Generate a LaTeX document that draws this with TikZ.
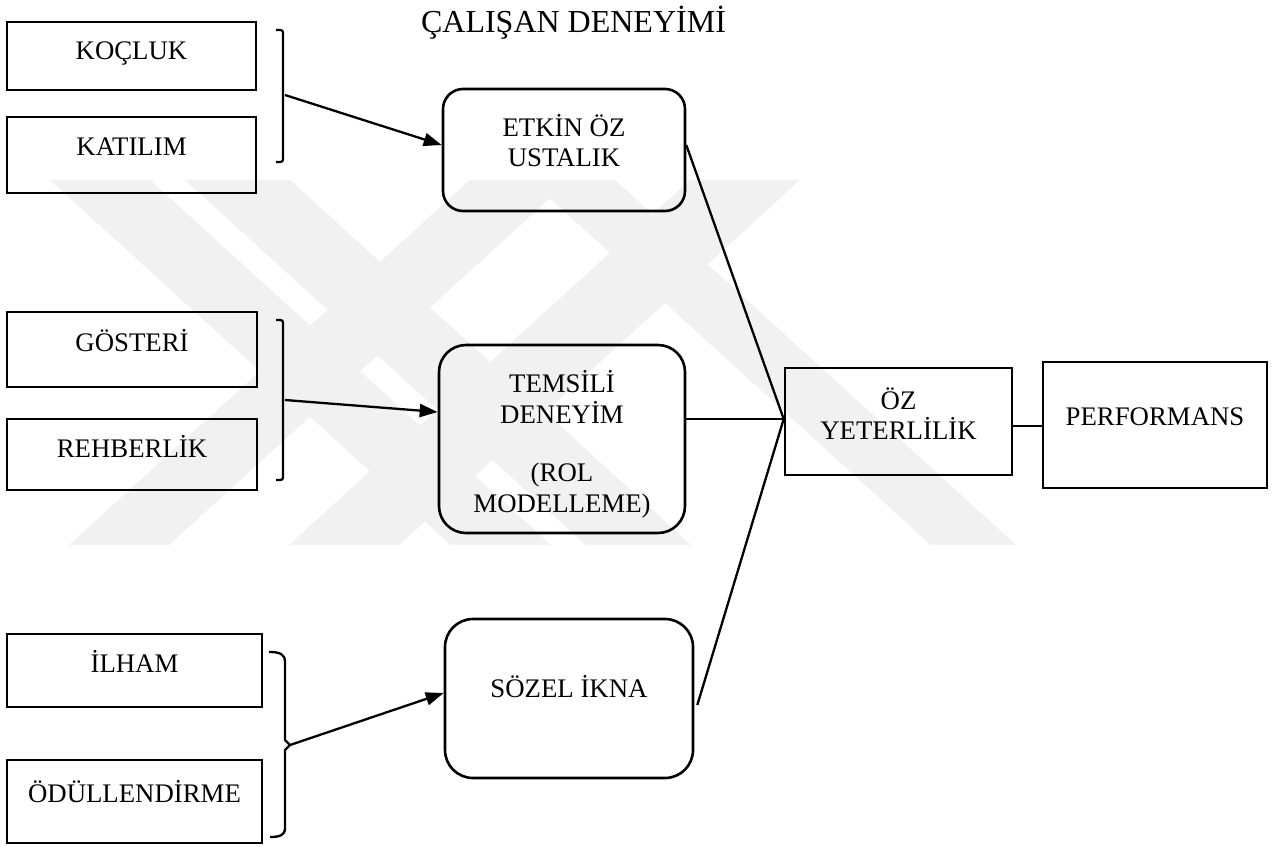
\documentclass[tikz,border=0pt]{standalone}
\usepackage{fontspec}
\setmainfont{Liberation Serif}
\usetikzlibrary{arrows.meta,calc}
\definecolor{wmark}{gray}{0.945}
\begin{document}
\begin{tikzpicture}[x=1pt,y=-1pt,
  box/.style={draw,line width=2.6pt,inner sep=0pt,rectangle},
  lbl/.style={anchor=base,inner sep=0pt,font=\fontsize{26.8}{30}\selectfont},
  conn/.style={line width=2.3pt},
  arr/.style={conn,-{Triangle[length=18pt,width=13pt]}},
  brk/.style={line width=2.3pt,rounded corners=2.5pt},
  band/.style={fill=wmark}]
\useasboundingbox (0,0) rectangle (1281,846);
\fill[white] (0,0) rectangle (1281,846);

% faint background watermark (diagonal bands)
\fill[band] (50,180) -- (150,180) -- (551,545) -- (451,545) -- cycle;
\fill[band] (185,180) -- (290,180) -- (691,545) -- (586,545) -- cycle;
\fill[band] (530,180) -- (615,180) -- (1016,545) -- (931,545) -- cycle;
\fill[band] (470,180) -- (570,180) -- (169,545) -- (69,545) -- cycle;
\fill[band] (690,180) -- (800,180) -- (399,545) -- (289,545) -- cycle;

% title
\node[anchor=base,inner sep=0pt,font=\fontsize{32}{36}\selectfont] (title) at (573.5,32) {ÇALIŞAN DENEYİMİ};

% left boxes
\node[box,minimum width=249pt,minimum height=68pt] (koc) at (131.5,56) {};
\node[lbl] (koct) at (131.5,59) {KOÇLUK};
\node[box,minimum width=249pt,minimum height=76pt] (kat) at (131.5,155) {};
\node[lbl] (katt) at (131.5,155.5) {KATILIM};
\node[box,minimum width=250pt,minimum height=75pt] (gos) at (132,349.5) {};
\node[lbl] (gost) at (132,351) {GÖSTERİ};
\node[box,minimum width=250pt,minimum height=71pt] (reh) at (132,454.5) {};
\node[lbl] (reht) at (132,457) {REHBERLİK};
\node[box,minimum width=255pt,minimum height=73pt] (ilh) at (134.5,670.5) {};
\node[lbl] (ilht) at (134.5,672) {İLHAM};
\node[box,minimum width=255pt,minimum height=83pt] (odu) at (134.5,801.5) {};
\node[lbl] (odut) at (134.5,802) {ÖDÜLLENDİRME};

% middle rounded boxes
\node[box,rounded corners=20pt,minimum width=242pt,minimum height=122pt] (etk) at (564,150) {};
\node[lbl] (etkt1) at (564,136) {ETKİN ÖZ};
\node[lbl] (etkt2) at (564,166) {USTALIK};
\node[box,rounded corners=27pt,minimum width=246pt,minimum height=188pt] (tem) at (562,439) {};
\node[lbl] (temt1) at (562,392) {TEMSİLİ};
\node[lbl] (temt2) at (562,423) {DENEYİM};
\node[lbl] (temt3) at (562,481) {(ROL};
\node[lbl] (temt4) at (562,512) {MODELLEME)};
\node[box,rounded corners=28pt,minimum width=248pt,minimum height=159pt] (soz) at (569,698.5) {};
\node[lbl] (sozt) at (569,697) {SÖZEL İKNA};

% right boxes
\node[box,minimum width=227pt,minimum height=107pt] (oz) at (898.5,421.5) {};
\node[lbl] (ozt1) at (898.5,409) {ÖZ};
\node[lbl] (ozt2) at (898.5,439) {YETERLİLİK};
\node[box,minimum width=224pt,minimum height=126pt] (perf) at (1155,425) {};
\node[lbl] (perft) at (1155,425) {PERFORMANS};

% brackets
\draw[brk] (276,30) -- (283,30) -- (283,162) -- (276,162);
\coordinate (b1) at (285,95);
\draw[brk] (276,320) -- (283,320) -- (283,480) -- (276,480);
\coordinate (b2) at (285,400);
\draw[line width=2.3pt] (269,652) .. controls (280,652) and (285,654) .. (285,662) -- (285,740) -- (290,745) -- (285,750) -- (285,828) .. controls (285,835) and (280,837) .. (270,837);
\coordinate (b3) at (290,745);

% arrows
\draw[arr] (b1) -- ([yshift=5pt]etk.west);
\draw[arr] (b2) -- ([yshift=27pt]tem.west);
\draw[arr] (b3) -- ([yshift=5.5pt]soz.west);

% lines into ÖZ YETERLİLİK
\draw[conn] ([yshift=5pt]etk.east) -- ([yshift=2.5pt]oz.west);
\draw[conn] ([yshift=20pt]tem.east) -- ([yshift=2.5pt]oz.west);
\draw[conn] ([xshift=3pt,yshift=-6.5pt]soz.east) -- ([yshift=2.5pt]oz.west);
\draw[conn] ([yshift=-4.5pt]oz.east) -- ([yshift=-4.5pt]oz.east -| perf.west);
\end{tikzpicture}
\end{document}
